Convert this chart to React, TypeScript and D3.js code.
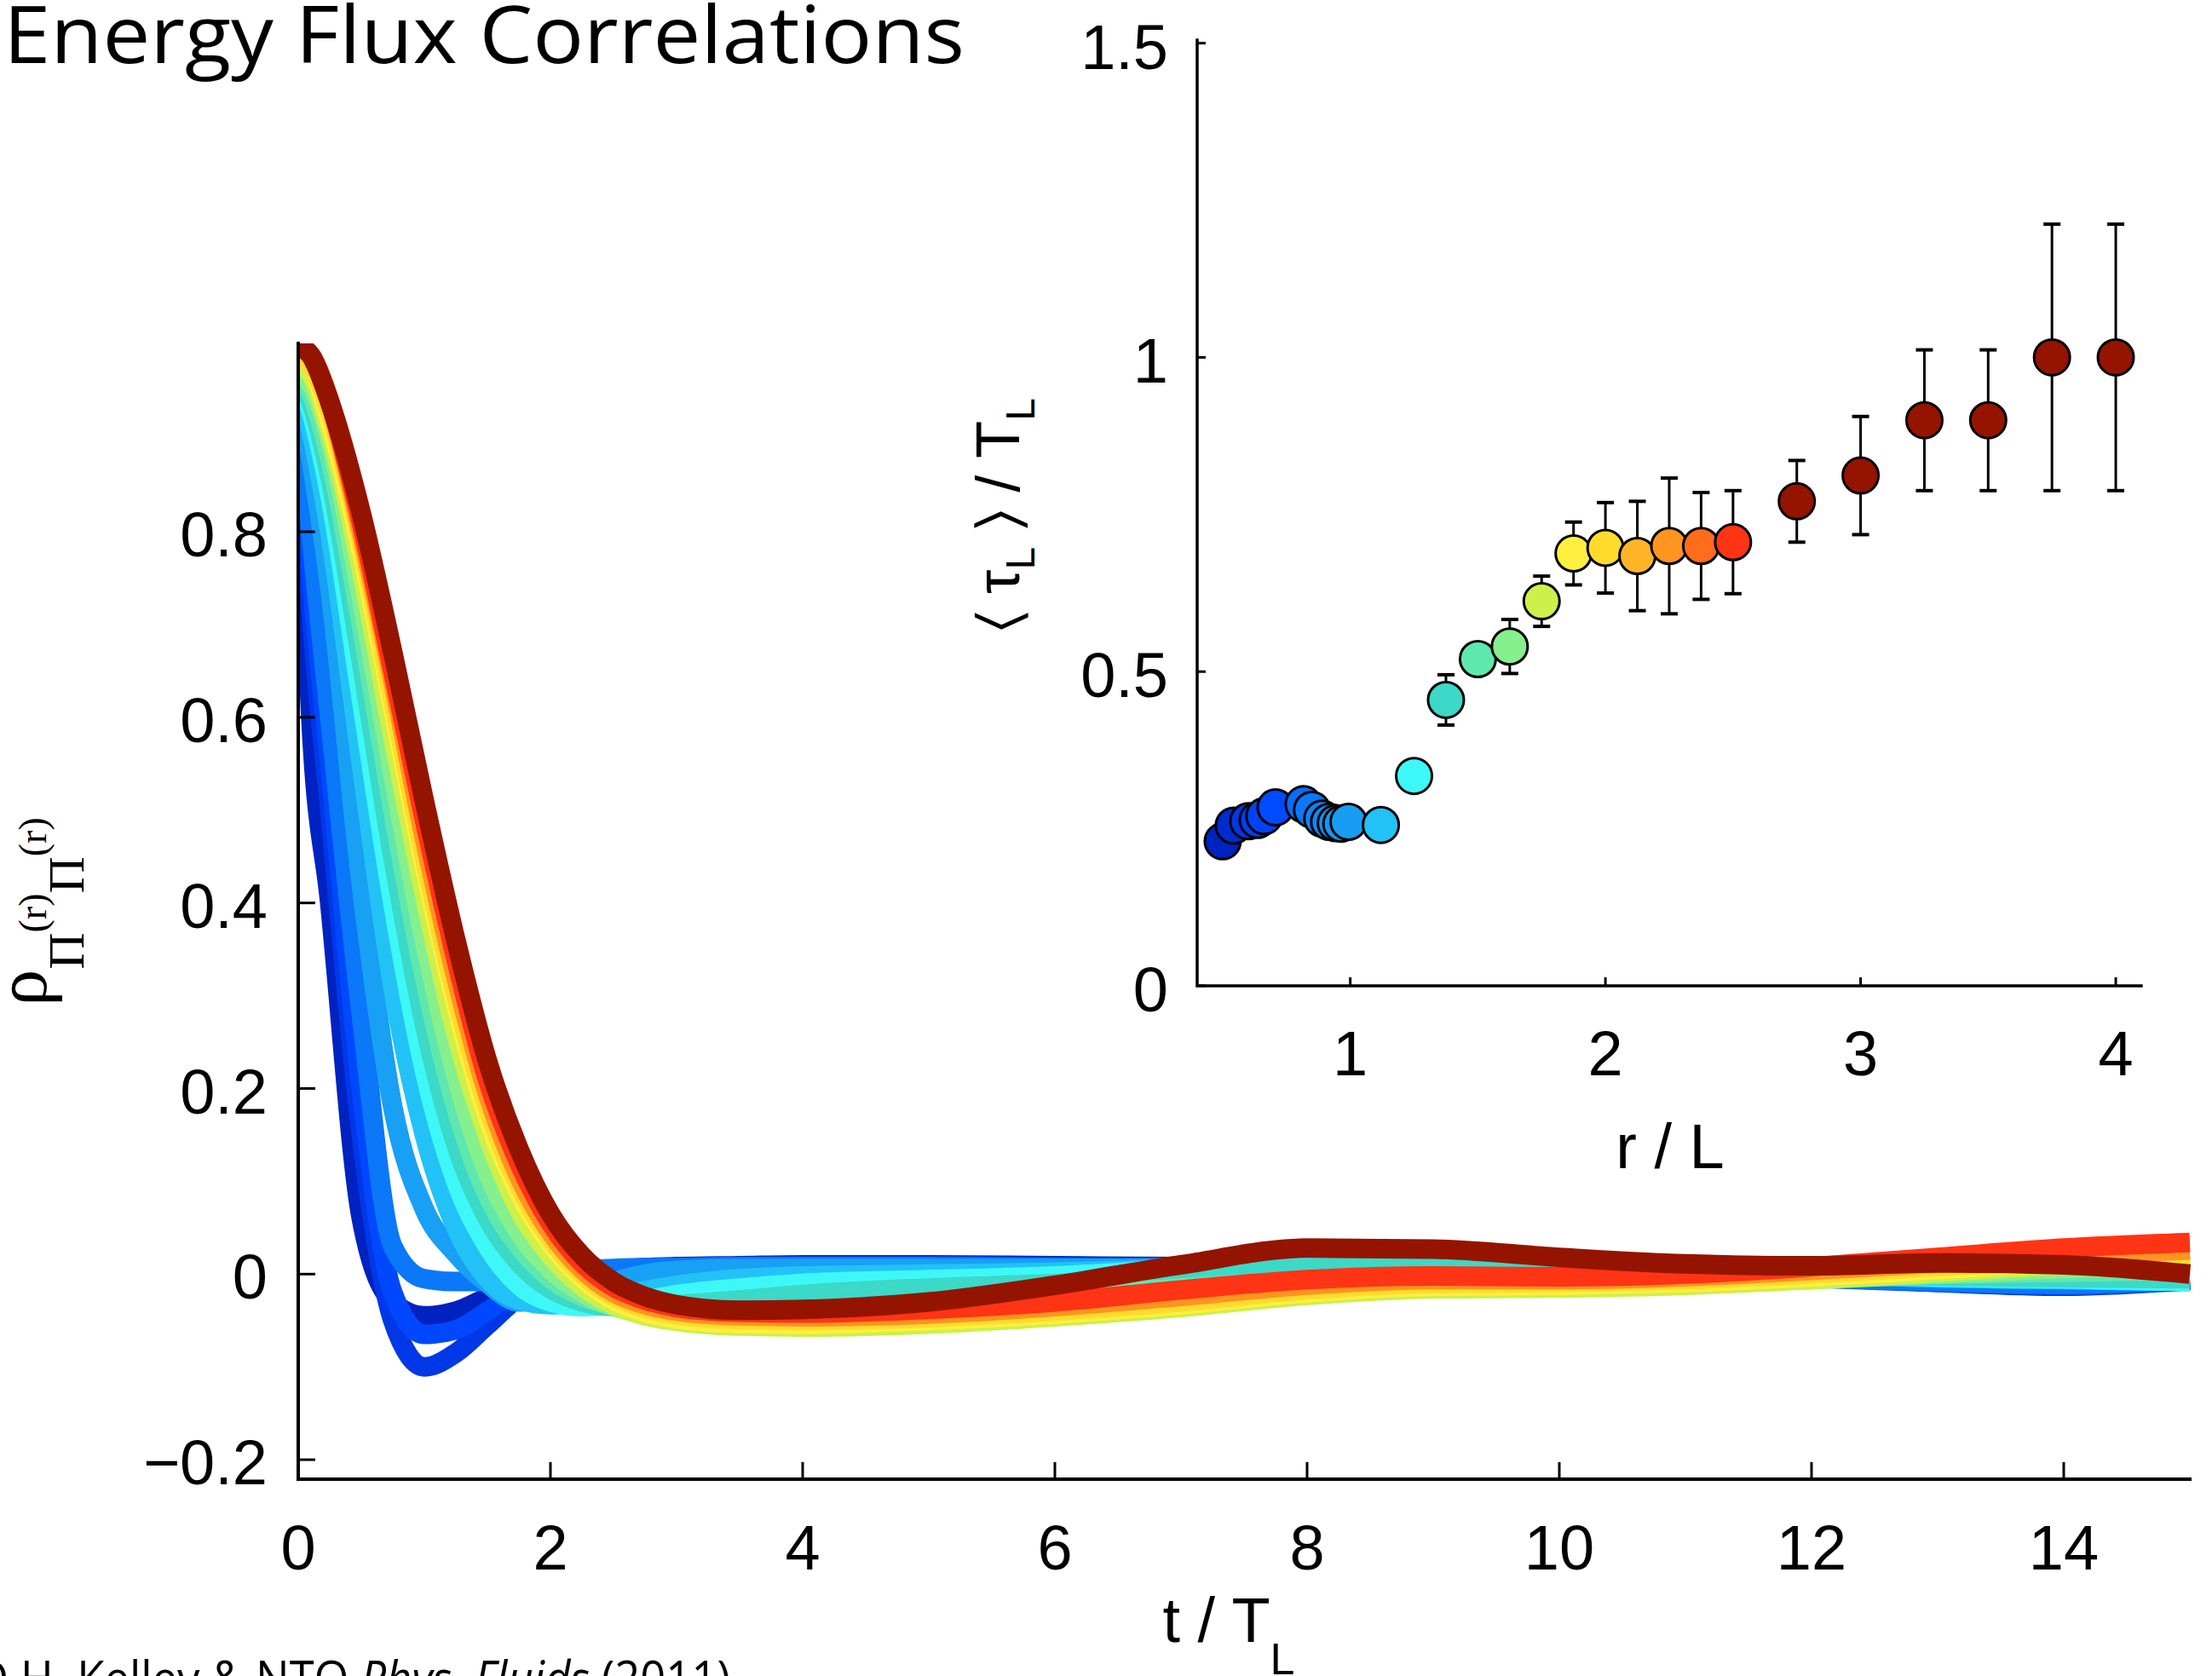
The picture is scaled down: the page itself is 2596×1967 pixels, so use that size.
import React from "react";
import * as d3 from "d3";

const W = 2596;
const H = 1967;

// ---------- main plot data: rho(t) for several separations r ----------
const tGrid = [0, 0.1, 0.25, 0.5, 0.75, 1, 1.25, 1.5, 1.75, 2, 2.25, 2.5, 2.75, 3, 3.5, 4, 5, 6, 7, 8, 9, 10, 11, 12, 13, 14, 15];

const curveR = [0.5, 0.6, 0.7, 0.85, 1.0, 1.12, 1.25, 1.375, 1.5, 1.625, 1.75, 1.875, 2.0, 2.25, 2.5, 2.75];

const rhoR050 = [0.95, 0.60, 0.40, 0.06, -0.03, -0.045, -0.04, -0.025, -0.012, -0.004, 0.002, 0.005, 0.007, 0.008, 0.009, 0.010, 0.010, 0.009, 0.008, 0.008, 0.006, 0.004, 0.002, -0.002, -0.008, -0.012, -0.006];
const rhoR060 = [0.96, 0.72, 0.50, 0.15, -0.05, -0.10, -0.085, -0.055, -0.025, -0.008, 0.0, 0.004, 0.006, 0.007, 0.008, 0.009, 0.009, 0.008, 0.007, 0.007, 0.005, 0.003, 0.001, -0.003, -0.009, -0.013, -0.007];
const rhoR070 = [0.96, 0.76, 0.55, 0.20, -0.02, -0.065, -0.06, -0.04, -0.018, -0.005, 0.002, 0.005, 0.006, 0.007, 0.008, 0.008, 0.008, 0.007, 0.006, 0.006, 0.004, 0.002, 0.0, -0.004, -0.009, -0.012, -0.006];
const rhoR085 = [0.96, 0.80, 0.60, 0.28, 0.03, -0.005, -0.008, -0.008, -0.005, 0.0, 0.004, 0.006, 0.007, 0.007, 0.008, 0.008, 0.008, 0.007, 0.006, 0.006, 0.004, 0.002, 0.0, -0.004, -0.008, -0.011, -0.006];
const rhoR100 = [0.96, 0.88, 0.74, 0.42, 0.18, 0.07, 0.022, -0.01, -0.03, -0.028, -0.018, -0.008, 0.0, 0.004, 0.006, 0.006, 0.006, 0.006, 0.007, 0.008, 0.007, 0.005, 0.003, 0.0, -0.004, -0.006, -0.005];
const rhoR112 = [0.965, 0.91, 0.80, 0.55, 0.31, 0.15, 0.05, -0.005, -0.028, -0.033, -0.03, -0.024, -0.018, -0.012, -0.005, -0.002, 0.0, 0.002, 0.006, 0.010, 0.010, 0.006, 0.003, 0.0, -0.004, -0.006, -0.008];
const rhoR125 = [0.965, 0.93, 0.84, 0.62, 0.40, 0.22, 0.10, 0.03, -0.012, -0.03, -0.035, -0.033, -0.028, -0.022, -0.015, -0.01, -0.006, -0.002, 0.006, 0.014, 0.014, 0.008, 0.004, 0.0, -0.003, -0.005, -0.008];
const rhoR1375 = [0.97, 0.94, 0.86, 0.66, 0.45, 0.27, 0.14, 0.06, 0.012, -0.016, -0.03, -0.035, -0.035, -0.033, -0.028, -0.022, -0.015, -0.01, -0.002, 0.006, 0.008, 0.005, 0.002, 0.0, -0.002, -0.004, -0.005];
const rhoR150 = [0.97, 0.95, 0.88, 0.70, 0.50, 0.32, 0.18, 0.085, 0.03, -0.005, -0.024, -0.034, -0.038, -0.04, -0.04, -0.038, -0.032, -0.024, -0.015, -0.007, -0.005, -0.006, -0.005, -0.003, 0.0, 0.002, 0.004];
const rhoR1625 = [0.975, 0.96, 0.90, 0.73, 0.54, 0.36, 0.215, 0.11, 0.045, 0.005, -0.02, -0.035, -0.043, -0.047, -0.05, -0.05, -0.046, -0.038, -0.028, -0.018, -0.013, -0.012, -0.01, -0.006, 0.0, 0.006, 0.010];
const rhoR175 = [0.98, 0.97, 0.91, 0.76, 0.58, 0.41, 0.26, 0.15, 0.07, 0.02, -0.013, -0.033, -0.045, -0.051, -0.056, -0.057, -0.054, -0.046, -0.036, -0.023, -0.016, -0.015, -0.012, -0.006, 0.002, 0.010, 0.015];
const rhoR1875 = [0.99, 0.98, 0.92, 0.78, 0.61, 0.44, 0.29, 0.17, 0.088, 0.033, -0.004, -0.028, -0.041, -0.048, -0.053, -0.054, -0.05, -0.043, -0.033, -0.02, -0.013, -0.012, -0.009, -0.003, 0.005, 0.013, 0.019];
const rhoR200 = [0.99, 0.98, 0.93, 0.79, 0.62, 0.45, 0.30, 0.18, 0.095, 0.038, 0.0, -0.024, -0.037, -0.044, -0.049, -0.05, -0.047, -0.04, -0.03, -0.017, -0.01, -0.009, -0.006, 0.0, 0.008, 0.016, 0.022];
const rhoR225 = [1.0, 0.99, 0.94, 0.80, 0.64, 0.47, 0.32, 0.195, 0.105, 0.045, 0.005, -0.02, -0.033, -0.04, -0.045, -0.046, -0.043, -0.035, -0.024, -0.012, -0.006, -0.006, -0.003, 0.004, 0.012, 0.02, 0.026];
const rhoR250 = [1.0, 0.99, 0.94, 0.81, 0.65, 0.49, 0.34, 0.21, 0.12, 0.055, 0.012, -0.014, -0.028, -0.036, -0.041, -0.042, -0.038, -0.03, -0.017, -0.006, -0.002, -0.003, 0.0, 0.008, 0.018, 0.028, 0.034];
const rhoR275 = [1.0, 0.99, 0.94, 0.82, 0.67, 0.51, 0.36, 0.23, 0.135, 0.065, 0.02, -0.008, -0.024, -0.033, -0.039, -0.038, -0.03, -0.012, 0.01, 0.028, 0.027, 0.018, 0.011, 0.009, 0.012, 0.01, 0.0];

const rhoCurves = [rhoR050, rhoR060, rhoR070, rhoR085, rhoR100, rhoR112, rhoR125, rhoR1375, rhoR150, rhoR1625, rhoR175, rhoR1875, rhoR200, rhoR225, rhoR250, rhoR275];

const mainXTicks = [0, 2, 4, 6, 8, 10, 12, 14];
const mainYTicks = [-0.2, 0, 0.2, 0.4, 0.6, 0.8];
const mainYTickLabels = ["\u22120.2", "0", "0.2", "0.4", "0.6", "0.8"];

// ---------- inset data: <tau_L>/T_L vs r/L ----------
const insetR = [0.50, 0.543, 0.60, 0.637, 0.663, 0.707, 0.817, 0.85, 0.89, 0.917, 0.943, 0.965, 0.993, 1.12, 1.25, 1.375, 1.5, 1.625, 1.75, 1.875, 2.0, 2.125, 2.25, 2.375, 2.5, 2.75, 3.0, 3.25, 3.5, 3.75, 4.0];
const insetTau = [0.230, 0.255, 0.262, 0.264, 0.270, 0.284, 0.289, 0.280, 0.266, 0.261, 0.259, 0.258, 0.261, 0.256, 0.334, 0.455, 0.52, 0.54, 0.612, 0.688, 0.697, 0.684, 0.70, 0.70, 0.706, 0.771, 0.812, 0.90, 0.90, 1.0, 1.0];
const insetErr = [0, 0, 0, 0, 0, 0, 0, 0, 0, 0, 0, 0, 0, 0, 0, 0.04, 0, 0.043, 0.04, 0.05, 0.072, 0.087, 0.108, 0.085, 0.082, 0.065, 0.094, 0.112, 0.112, 0.212, 0.212];
const insetXTicks = [1, 2, 3, 4];
const insetYTicks = [0, 0.5, 1, 1.5];
const insetYTickLabels = ["0", "0.5", "1", "1.5"];

// jet-like colour stops over r/L
const colorStopsR = [0.5, 0.6, 0.7, 0.85, 1.0, 1.12, 1.25, 1.375, 1.5, 1.625, 1.75, 1.875, 2.0, 2.125, 2.25, 2.375, 2.5, 2.75];
const colorStops = ["#0022c0", "#0038e8", "#0048ff", "#0a78f8", "#18a0f4", "#22c2f6", "#3ef8f8", "#3cd8c8", "#5ee8ae", "#86f08e", "#cdf04a", "#fff040", "#ffdc2c", "#ffb428", "#ff9420", "#ff6c1c", "#ff3414", "#941400"];

const SANS = "'Liberation Sans', Arial, Helvetica, sans-serif";
const SERIF = "'Liberation Serif', 'DejaVu Serif', serif";
const TITLE = "'Open Sans', 'Lato', sans-serif";

export default function App() {
  const colorOf = d3
    .scaleLinear<string>()
    .domain(colorStopsR)
    .range(colorStops)
    .interpolate(d3.interpolateRgb)
    .clamp(true);

  // main axes
  const mL = 350, mR = 2570, mT = 403, mB = 1736;
  const mx = d3.scaleLinear().domain([0, 15]).range([mL, mR]);
  const my = d3.scaleLinear().domain([-0.221, 1.003]).range([mB, mT]);

  // inset axes
  const iL = 1405, iR = 2513, iT = 47, iB = 1157;
  const ix = d3.scaleLinear().domain([0.4, 4.1]).range([iL, iR]);
  const iy = d3.scaleLinear().domain([0, 1.505]).range([iB, iT]);

  const line = d3
    .line<number>()
    .x((_, i) => mx(tGrid[i]))
    .y((d) => my(d))
    .curve(d3.curveMonotoneX);

  const tickFs = 74;

  return (
    <svg
      width={W}
      height={H}
      viewBox={`0 0 ${W} ${H}`}
      style={{ position: "absolute", left: 0, top: 0, background: "#fff" }}
    >
      <rect x={0} y={0} width={W} height={H} fill="#fff" />
      <defs>
        <clipPath id="mainClip">
          <rect x={mL} y={mT} width={mR - mL + 2} height={mB - mT} />
        </clipPath>
      </defs>

      {/* title */}
      <text
        x={4}
        y={74}
        fontFamily={TITLE}
        fontSize={94}
        fontWeight={500}
        textLength={1128}
        lengthAdjust="spacingAndGlyphs"
        fill="#000"
      >
        Energy Flux Correlations
      </text>

      {/* main curves */}
      <g clipPath="url(#mainClip)">
        {rhoCurves.map((vals, k) => (
          <path
            key={k}
            d={line(vals) || ""}
            fill="none"
            stroke={colorOf(curveR[k])}
            strokeWidth={23}
            strokeLinejoin="round"
            strokeLinecap="butt"
          />
        ))}
      </g>

      {/* main axes */}
      <path
        d={`M${mL},${mT} L${mL},${mB} L${mR},${mB}`}
        fill="none"
        stroke="#000"
        strokeWidth={4}
        strokeLinecap="square"
      />
      {mainXTicks.map((t) => (
        <g key={"mx" + t}>
          <line x1={mx(t)} x2={mx(t)} y1={mB} y2={mB - 20} stroke="#000" strokeWidth={3} />
          <text x={mx(t)} y={1842} textAnchor="middle" fontFamily={SANS} fontSize={tickFs}>
            {t}
          </text>
        </g>
      ))}
      {mainYTicks.map((v, i) => (
        <g key={"my" + v}>
          <line x1={mL} x2={mL + 20} y1={my(v)} y2={my(v)} stroke="#000" strokeWidth={3} />
          <text x={314} y={my(v) + 29} textAnchor="end" fontFamily={SANS} fontSize={tickFs}>
            {mainYTickLabels[i]}
          </text>
        </g>
      ))}
      {/* main x label */}
      <text x={1442} y={1927} textAnchor="middle" fontFamily={SANS} fontSize={tickFs}>
        t / T
        <tspan fontSize={52} dy={38}>L</tspan>
      </text>
      {/* main y label */}
      <text
        transform="translate(54,1070) rotate(-90)"
        textAnchor="middle"
        fontFamily={SERIF}
        fontSize={86}
      >
        ρ
        <tspan fontSize={60} dy={44}>Π</tspan>
        <tspan fontSize={46} dy={-44}>(r)</tspan>
        <tspan fontSize={60} dy={44}>Π</tspan>
        <tspan fontSize={46} dy={-44}>(r)</tspan>
      </text>

      {/* inset error bars */}
      {insetR.map((r, i) =>
        insetErr[i] > 0 ? (
          <g key={"e" + i} stroke="#000" strokeWidth={3}>
            <line x1={ix(r)} x2={ix(r)} y1={iy(insetTau[i] - insetErr[i])} y2={iy(insetTau[i] + insetErr[i])} />
            <line x1={ix(r) - 10} x2={ix(r) + 10} y1={iy(insetTau[i] + insetErr[i])} y2={iy(insetTau[i] + insetErr[i])} strokeWidth={4} />
            <line x1={ix(r) - 10} x2={ix(r) + 10} y1={iy(insetTau[i] - insetErr[i])} y2={iy(insetTau[i] - insetErr[i])} strokeWidth={4} />
          </g>
        ) : null
      )}
      {/* inset points */}
      {insetR.map((r, i) => (
        <circle
          key={"p" + i}
          cx={ix(r)}
          cy={iy(insetTau[i])}
          r={21}
          fill={colorOf(r)}
          stroke="#000"
          strokeWidth={3}
        />
      ))}

      {/* inset axes */}
      <path
        d={`M${iL},${iT} L${iL},${iB} L${iR},${iB}`}
        fill="none"
        stroke="#000"
        strokeWidth={3.5}
        strokeLinecap="square"
      />
      {insetXTicks.map((v) => (
        <g key={"ix" + v}>
          <line x1={ix(v)} x2={ix(v)} y1={iB} y2={iB - 10} stroke="#000" strokeWidth={3} />
          <text x={ix(v)} y={1262} textAnchor="middle" fontFamily={SANS} fontSize={tickFs}>
            {v}
          </text>
        </g>
      ))}
      {insetYTicks.map((v, i) => (
        <g key={"iy" + v}>
          <line x1={iL} x2={iL + 10} y1={iy(v)} y2={iy(v)} stroke="#000" strokeWidth={3} />
          <text x={1371} y={iy(v) + 30} textAnchor="end" fontFamily={SANS} fontSize={tickFs}>
            {insetYTickLabels[i]}
          </text>
        </g>
      ))}
      <text x={1960} y={1371} textAnchor="middle" fontFamily={SANS} fontSize={tickFs}>
        r / L
      </text>
      <text
        transform="translate(1196,604) rotate(-90)"
        textAnchor="middle"
        fontFamily={SANS}
        fontSize={72}
      >
        {"\u2329 \u03C4"}
        <tspan fontSize={48} dy={18}>L</tspan>
        <tspan dy={-18}>{" \u232A / T"}</tspan>
        <tspan fontSize={48} dy={18}>L</tspan>
      </text>

      {/* footer */}
      <text
        x={-28}
        y={1990}
        fontFamily={TITLE}
        fontSize={56}
        textLength={885}
        lengthAdjust="spacingAndGlyphs"
      >
        D.H. Kelley &amp; NTO <tspan fontStyle="italic">Phys. Fluids</tspan> (2011)
      </text>
    </svg>
  );
}
